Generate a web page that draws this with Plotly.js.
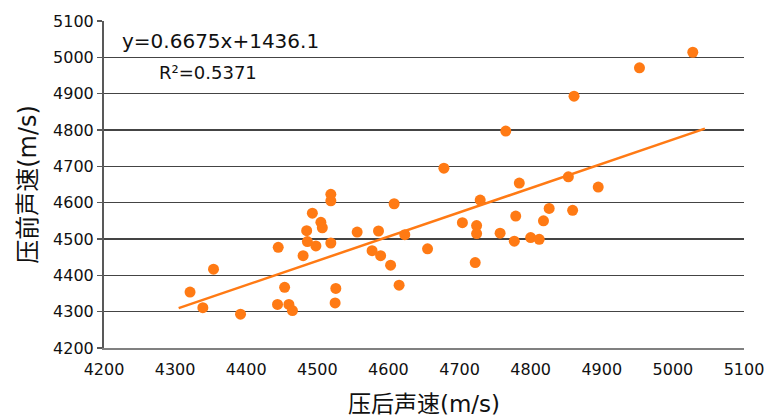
<!DOCTYPE html>
<html>
<head>
<meta charset="utf-8">
<script src="https://cdn.plot.ly/plotly-3.0.1.min.js"></script>
<style>html,body{margin:0;padding:0;background:#fff;}#chart{width:768px;height:420px;}</style>
</head>
<body>
<div id="chart"></div>
<script>
// 压后声速 (x) and 压前声速 (y)
const afterSpeed = [4519, 4519, 4608, 4493, 4505, 4507, 4485, 4556, 4586, 4623,
                    4486, 4498, 4519, 4445, 4480, 4577, 4589, 4603, 4655, 4354,
                    4321, 4339, 4392, 4454, 4444, 4460, 4465, 4526, 4525, 4615,
                    4784, 4729, 4704, 4724, 4724, 4757, 4779, 4777, 4800, 4812,
                    4818, 4826, 4859, 4722, 4678, 4765, 4861, 4953, 5028, 4853,
                    4895];
const beforeSpeed = [4623, 4605, 4597, 4571, 4546, 4531, 4523, 4519, 4522, 4512,
                     4493, 4481, 4489, 4477, 4454, 4468, 4454, 4428, 4473, 4417,
                     4354, 4311, 4293, 4367, 4320, 4320, 4303, 4364, 4324, 4373,
                     4654, 4607, 4545, 4537, 4515, 4516, 4563, 4494, 4504, 4499,
                     4550, 4584, 4579, 4435, 4695, 4797, 4893, 4971, 5014, 4671,
                     4643];
// linear trend line: y = 0.6675x + 1436.1
const slope = 0.6675;
const intercept = 1436.1;
const trendX = [4305, 5045];
const trendY = trendX.map(v => slope * v + intercept);
const eqText = "y=0.6675x+1436.1";
const r2Text = "R²=0.5371";
const xTickVals = [4200, 4300, 4400, 4500, 4600, 4700, 4800, 4900, 5000, 5100];
const yTickVals = [4200, 4300, 4400, 4500, 4600, 4700, 4800, 4900, 5000, 5100];

const orange = "#FF7A14";
const fontFam = "DejaVu Sans, Noto Sans CJK SC, sans-serif";

const traces = [
  {
    x: afterSpeed, y: beforeSpeed, type: "scatter", mode: "markers",
    marker: {color: orange, size: 11, line: {width: 0}},
    hoverinfo: "none", showlegend: false
  },
  {
    x: trendX, y: trendY, type: "scatter", mode: "lines",
    line: {color: orange, width: 2.5},
    hoverinfo: "none", showlegend: false
  }
];

const layout = {
  width: 768, height: 420,
  margin: {l: 104, r: 24, t: 21, b: 72},
  paper_bgcolor: "#ffffff", plot_bgcolor: "#ffffff",
  font: {family: fontFam, color: "#111111", size: 16},
  showlegend: false,
  xaxis: {
    range: [4200, 5100], tickvals: xTickVals, ticktext: xTickVals.map(String),
    showgrid: false, zeroline: false,
    showline: true, linecolor: "#808080", linewidth: 2,
    ticks: "outside", ticklen: 6, tickcolor: "rgba(0,0,0,0)",
    tickfont: {family: fontFam, size: 16, color: "#111111"},
    title: {text: "压后声速(m/s)", font: {family: fontFam, size: 23, color: "#111111"}, standoff: 18}
  },
  yaxis: {
    range: [4200, 5100], tickvals: yTickVals, ticktext: yTickVals.map(String),
    showgrid: true, gridcolor: "#444444", gridwidth: 1.5, zeroline: false,
    showline: true, linecolor: "#595959", linewidth: 2,
    ticks: "outside", ticklen: 5, tickcolor: "#595959", tickwidth: 1.5,
    tickfont: {family: fontFam, size: 16, color: "#111111"},
    title: {text: "压前声速(m/s)", font: {family: fontFam, size: 24, color: "#111111"}, standoff: 10}
  },
  annotations: [
    {xref: "paper", yref: "paper", x: 0.025, y: 0.939, xanchor: "left", yanchor: "middle",
     text: eqText, showarrow: false, font: {family: fontFam, size: 20, color: "#111111"}},
    {xref: "paper", yref: "paper", x: 0.083, y: 0.841, xanchor: "left", yanchor: "middle",
     text: r2Text, showarrow: false, font: {family: fontFam, size: 18, color: "#111111"}}
  ]
};

Plotly.newPlot("chart", traces, layout, {displayModeBar: false, staticPlot: true});
</script>
</body>
</html>
